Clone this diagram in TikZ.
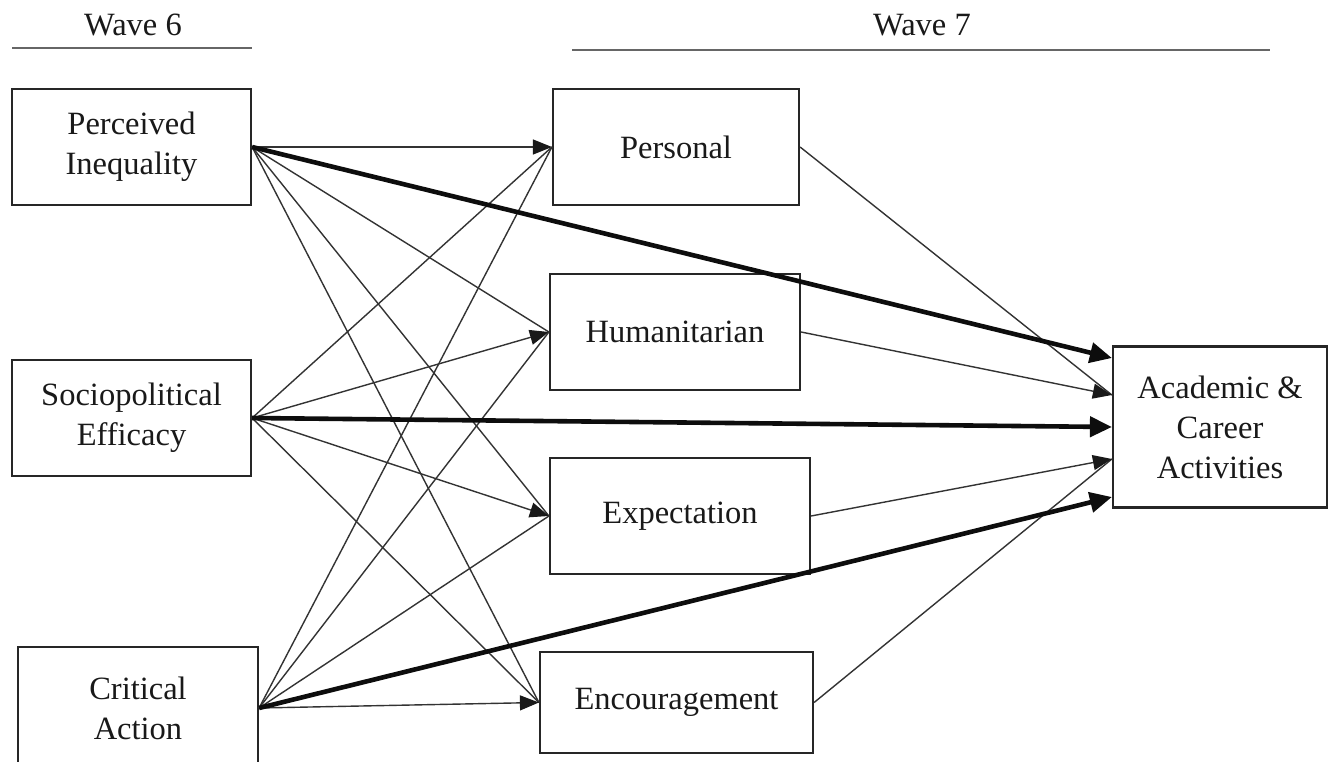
\documentclass[tikz,border=0pt]{standalone}
\usepackage{fontspec}
\setmainfont{Liberation Serif}
\usetikzlibrary{arrows.meta,calc}
\begin{document}
\begin{tikzpicture}[x=1pt,y=-1pt,
  box/.style={draw=black!85,line width=2.2pt,rectangle,align=center,inner sep=0pt,
    font=\fontsize{32.5}{40}\selectfont,text=black!90},
  thin/.style={draw=black!80,line width=1.4pt,-{Triangle[length=19pt,width=15pt,color=black!90]}},
  plain/.style={draw=black!80,line width=1.4pt},
  thick/.style={draw=black!95,line width=4.6pt,-{Triangle[length=22pt,width=20pt]}},
  wave/.style={font=\fontsize{32.5}{40}\selectfont,text=black!90},
  rule/.style={draw=black!60,line width=1.8pt}]
\useasboundingbox (0,0) rectangle (1336,762);
\clip (0,0) rectangle (1336,762);
\fill[white] (0,0) rectangle (1336,762);

% headers
\node[wave] (w6) at (133,25) {Wave 6};
\node[wave] (w7) at (922,25) {Wave 7};
\coordinate (w6l) at (12,48);
\coordinate (w6r) at (252,48);
\coordinate (w7l) at (572,50);
\coordinate (w7r) at (1270,50);
\draw[rule] (w6l) -- (w6r);
\draw[rule] (w7l) -- (w7r);

% left boxes
\node[box,minimum width=239pt,minimum height=116pt] (pi) at (131.5,147) {Perceived\\Inequality};
\node[box,minimum width=239pt,minimum height=116pt] (se) at (131.5,418) {Sociopolitical\\Efficacy};
\node[box,minimum width=240pt,minimum height=122pt] (ca) at (138,708) {Critical\\Action};

% middle boxes
\node[box,minimum width=246pt,minimum height=116pt] (pe) at (676,147) {Personal};
\node[box,minimum width=250pt,minimum height=116pt] (hu) at (675,332) {Humanitarian};
\node[box,minimum width=260pt,minimum height=116pt] (ex) at (680,516) {Expectation};
\node[box,minimum width=273pt,minimum height=101pt] (en) at (676.5,702.5) {Encouragement};

% outcome
\node[box,minimum width=214pt,minimum height=161pt] (ac) at (1220,427) {Academic \&\\Career\\Activities};

\coordinate (a1) at ([yshift=69pt]ac.west);
\coordinate (a2) at ([yshift=32pt]ac.west);
\coordinate (a3) at (ac.west);
\coordinate (a4) at ([yshift=-32pt]ac.west);
\coordinate (a5) at ([yshift=-70pt]ac.west);

% left -> middle (one visible arrowhead per target)
\draw[thin]  (pi.east) -- (pe.west);
\draw[plain] (se.east) -- (pe.west);
\draw[plain] (ca.east) -- (pe.west);
\draw[plain] (pi.east) -- (hu.west);
\draw[thin]  (se.east) -- (hu.west);
\draw[plain] (ca.east) -- (hu.west);
\draw[plain] (pi.east) -- (ex.west);
\draw[thin]  (se.east) -- (ex.west);
\draw[plain] (ca.east) -- (ex.west);
\draw[plain] (pi.east) -- (en.west);
\draw[plain] (se.east) -- (en.west);
\draw[thin]  (ca.east) -- (en.west);

% middle -> outcome
\draw[plain] (pe.east) -- (a2);
\draw[thin]  (hu.east) -- (a2);
\draw[plain] (en.east) -- (a4);
\draw[thin]  (ex.east) -- (a4);

% thick direct paths
\draw[thick] (pi.east) -- (a1);
\draw[thick] (se.east) -- (a3);
\draw[thick] (ca.east) -- (a5);
\end{tikzpicture}
\end{document}
